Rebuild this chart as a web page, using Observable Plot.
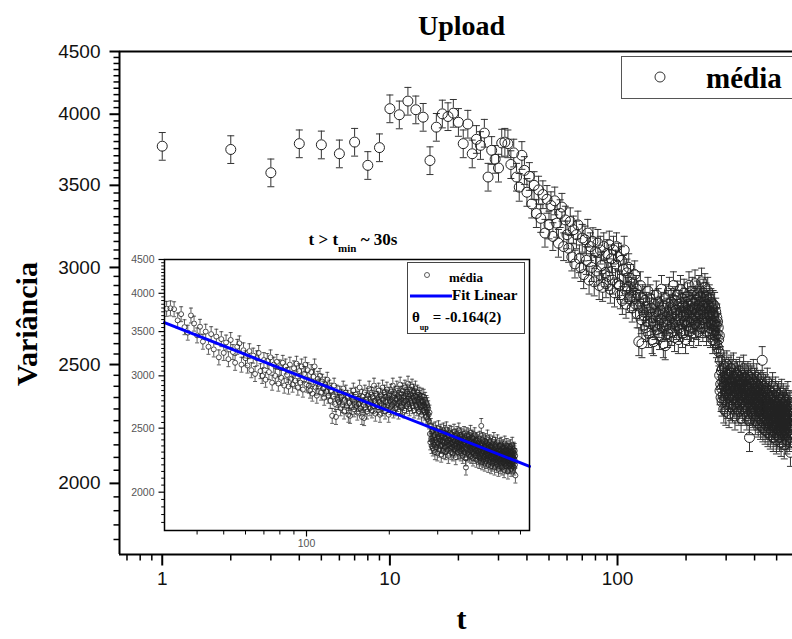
<!DOCTYPE html>
<html><head><meta charset="utf-8">
<script src="https://cdn.jsdelivr.net/npm/d3@7"></script>
<script src="https://cdn.jsdelivr.net/npm/@observablehq/plot@0.6"></script>
<style>
body{margin:0;background:#fff}
#wrap{position:relative;width:792px;height:639px;overflow:hidden;background:#fff}
#wrap > *{position:absolute}
</style></head><body><div id="wrap"></div>
<script>
// ---- data (t = 1, 2, 3, ... seconds) ----
const variance = [
3767,3744,3584,3785,3777,3714,3796,3634,3757,4042,
3996,4100,4034,3978,3667,3904,4003,3983,4008,3940,
3785,3927,3714,3816,3773,3861,3555,3738,3676,3616,
3790,3796,3785,3640,3720,3555,3488,3703,3600,3455,
3560,3380,3500,3320,3470,3290,3440,3200,3410,3250,
3370,3180,3400,3260,3140,3320,3360,3120,3280,3190,
3110,3270,3060,3220,3020,3190,3250,3050,3000,3170,
2960,3160,3040,3200,2930,3120,3000,3150,2920,3090,
2980,3140,2900,3100,3010,2890,3120,2970,2910,3080,
2950,3130,2880,3050,2930,3100,2860,3020,3120,2910,
3060,2900,2850,3040,2820,2990,3100,2880,2800,2970,
2890,3000,2830,2940,2870,2780,2910,2840,2960,2800,
2880,2750,2850,2610,2790,2900,2720,2600,2830,2760,
2740,2820,2680,2790,2710,2870,2650,2760,2830,2700,
2780,2620,2730,2610,2800,2690,2760,2850,2670,2740,
2810,2700,2640,2770,2720,2880,2680,2750,2600,2790,
2710,2590,2830,2690,2760,2650,2800,2720,2870,2680,
2740,2810,2660,2780,2700,2900,2750,2630,2820,2710,
2770,2690,2850,2740,2620,2800,2720,2680,2880,2760,
2700,2830,2650,2790,2740,2860,2710,2780,2620,2810,
2750,2690,2840,2770,2710,2900,2660,2790,2730,2820,
2680,2760,2870,2720,2800,2650,2780,2740,2910,2700,
2820,2760,2690,2850,2730,2790,2660,2880,2750,2810,
2700,2840,2770,2920,2720,2790,2680,2860,2750,2810,
2730,2890,2700,2780,2840,2660,2800,2750,2870,2710,
2790,2680,2830,2740,2760,2650,2810,2720,2780,2690,
2750,2620,2800,2700,2740,2660,2790,2710,2640,2760,
2690,2600,2730,2650,2710,2580,2680,2620,2560,2640,
2450,2380,2520,2410,2350,2470,2390,2330,2480,2420,
2360,2440,2300,2490,2400,2340,2460,2380,2290,2430,
2370,2500,2410,2320,2450,2390,2350,2470,2280,2420,
2360,2440,2390,2310,2480,2370,2420,2340,2460,2300,
2410,2350,2490,2380,2320,2440,2400,2270,2430,2360,
2390,2460,2330,2410,2370,2300,2450,2380,2340,2420,
2290,2400,2360,2470,2320,2390,2430,2350,2260,2410,
2370,2330,2450,2390,2300,2420,2360,2480,2340,2380,
2310,2440,2370,2290,2400,2350,2430,2320,2390,2270,
2410,2360,2330,2450,2300,2380,2420,2340,2250,2180,
2390,2320,2440,2360,2290,2410,2350,2300,2430,2370,
2280,2400,2340,2310,2460,2360,2270,2390,2330,2420,
2300,2370,2250,2410,2340,2290,2380,2320,2440,2350,
2270,2390,2310,2360,2240,2400,2330,2290,2370,2310,
2350,2260,2380,2300,2230,2410,2320,2280,2360,2250,
2340,2520,2290,2370,2220,2310,2400,2270,2330,2240,
2380,2300,2260,2350,2210,2320,2390,2280,2340,2230,
2310,2370,2250,2290,2420,2270,2330,2200,2300,2360,
2240,2320,2280,2380,2220,2310,2260,2350,2190,2290,
2340,2250,2300,2210,2370,2270,2320,2230,2290,2400,
2260,2310,2180,2340,2280,2240,2360,2220,2300,2250,
2330,2200,2290,2260,2380,2230,2310,2270,2170,2320,
2250,2300,2220,2350,2270,2190,2310,2240,2290,2360,
2210,2280,2250,2330,2180,2300,2260,2220,2340,2270,
2230,2310,2160,2290,2250,2370,2210,2280,2240,2320,
2190,2270,2300,2230,2350,2260,2200,2290,2250,2150,
2310,2240,2280,2210,2330,2260,2190,2300,2230,2270,
2340,2200,2280,2250,2170,2310,2240,2290,2220,2360,
2260,2190,2300,2230,2270,2210,2320,2250,2180,2290,
2240,2310,2200,2270,2120
];
const times = variance.map((_, i) => i + 1);
const errFrac = 0.026;          // relative half-length of the error bars
const tMin = 30;                // inset: t > t_min ~ 30 s
const fitTheta = -0.164;        // θ_up
const fitAmp = 6324;            // fit amplitude
const mainYTicks = [2000, 2500, 3000, 3500, 4000, 4500];
const mainXTicks = [1, 10, 100];
const mainXMinor = [0.7,0.8,0.9,2,3,4,5,6,7,8,9,20,30,40,50,60,70,80,90,200,300,400,500];
const insetXTicks = [100];
const insetXMinor = [40,50,60,70,80,90,200,300,400,500,600];
const yMinor = d3.range(1800, 4500, 50).filter(v => v % 500 !== 0);

const xDomMain = [0.649, 587];
const xDomInset = [30.45, 647];
const yDom = [1750, 4500];

const mainData = times.map((t, i) => ({t, v: variance[i]}));
const insetData = mainData.filter(d => d.t > tMin);
const fitPts = xDomInset.map(t => ({t, v: fitAmp * Math.pow(t, fitTheta)}));

function lineSymbol(a, b, c, d) {
  return {draw(ctx, size) { const l = Math.sqrt(size / Math.PI); ctx.moveTo(a * l, b * l); ctx.lineTo(c * l, d * l); }};
}
const symLeft = lineSymbol(-1, 0, 0, 0);
const symDown = lineSymbol(0, 0, 0, 1);
const symCap = lineSymbol(-1, 0, 1, 0);

const serif = "Liberation Serif";
const wrap = document.getElementById("wrap");

function errorMarks(data, r, cap, color, sw) {
  return [
    Plot.ruleX(data, {x: "t", y1: d => d.v * (1 + errFrac), y2: "v", insetBottom: r, stroke: color, strokeWidth: sw}),
    Plot.ruleX(data, {x: "t", y1: "v", y2: d => d.v * (1 - errFrac), insetTop: r, stroke: color, strokeWidth: sw}),
    Plot.dot(data, {x: "t", y: d => d.v * (1 + errFrac), symbol: symCap, r: cap, fill: "none", stroke: color, strokeWidth: sw}),
    Plot.dot(data, {x: "t", y: d => d.v * (1 - errFrac), symbol: symCap, r: cap, fill: "none", stroke: color, strokeWidth: sw}),
    Plot.dot(data, {x: "t", y: "v", r: r, fill: "none", stroke: "#222", strokeWidth: sw})
  ];
}

const main = Plot.plot({
  width: 792, height: 639,
  marginLeft: 119, marginRight: 0, marginTop: 51, marginBottom: 85,
  style: {font: "19px 'Liberation Sans'", color: "#111", background: "white", overflow: "visible"},
  x: {type: "log", domain: xDomMain, ticks: mainXTicks, tickSize: 0, tickPadding: 17, tickFormat: d => String(d), label: null},
  y: {type: "log", domain: yDom, ticks: mainYTicks, tickSize: 0, tickPadding: 19, tickFormat: d => String(d), label: null},
  marks: [
    ...errorMarks(mainData, 5, 3.5, "#333", 1),
    Plot.ruleX([xDomMain[0]], {stroke: "#000", strokeWidth: 2}),
    Plot.ruleY([yDom[0]], {stroke: "#000", strokeWidth: 2}),
    Plot.ruleY([yDom[1]], {stroke: "#000", strokeWidth: 2}),
    Plot.dot(mainYTicks, {x: () => xDomMain[0], y: d => d, symbol: symLeft, r: 10, stroke: "#000", strokeWidth: 2, fill: "none"}),
    Plot.dot(yMinor, {x: () => xDomMain[0], y: d => d, symbol: symLeft, r: 6, stroke: "#000", strokeWidth: 1.5, fill: "none"}),
    Plot.dot(mainXTicks, {x: d => d, y: () => yDom[0], symbol: symDown, r: 11, stroke: "#000", strokeWidth: 2, fill: "none"}),
    Plot.dot(mainXMinor, {x: d => d, y: () => yDom[0], symbol: symDown, r: 6, stroke: "#000", strokeWidth: 1.5, fill: "none"}),
    Plot.text(["Upload"], {frameAnchor: "top", textAnchor: "middle", lineAnchor: "middle", dx: 5.5, dy: -25, fontFamily: serif, fontWeight: "bold", fontSize: 28, fill: "#000"}),
    Plot.text(["Variância"], {frameAnchor: "left", textAnchor: "middle", lineAnchor: "middle", rotate: -90, dx: -92, dy: 21, fontFamily: serif, fontWeight: "bold", fontSize: 30, fill: "#000"}),
    Plot.text(["t"], {frameAnchor: "bottom", textAnchor: "middle", lineAnchor: "middle", dx: 5.5, dy: 65, fontFamily: serif, fontWeight: "bold", fontSize: 30, fill: "#000"})
  ]
});
main.style.left = "0px"; main.style.top = "0px";
wrap.appendChild(main);

const inset = Plot.plot({
  width: 415, height: 326,
  marginLeft: 45, marginRight: 5, marginTop: 30, marginBottom: 25,
  style: {font: "10.5px 'Liberation Sans'", color: "#555", background: "transparent", overflow: "visible"},
  x: {type: "log", domain: xDomInset, ticks: insetXTicks, tickSize: 0, tickPadding: 9, tickFormat: d => String(d), label: null},
  y: {type: "log", domain: yDom, ticks: mainYTicks, tickSize: 0, tickPadding: 10, tickFormat: d => String(d), label: null},
  marks: [
    Plot.frame({fill: "white", stroke: "none"}),
    ...errorMarks(insetData, 2.5, 2, "#333", 0.8),
    Plot.line(fitPts, {x: "t", y: "v", stroke: "#0000ff", strokeWidth: 3}),
    Plot.frame({stroke: "#000", strokeWidth: 1.5}),
    Plot.dot(mainYTicks, {x: () => xDomInset[0], y: d => d, symbol: symLeft, r: 6, stroke: "#000", strokeWidth: 1.2, fill: "none"}),
    Plot.dot(yMinor, {x: () => xDomInset[0], y: d => d, symbol: symLeft, r: 3.3, stroke: "#000", strokeWidth: 1, fill: "none"}),
    Plot.dot(insetXTicks, {x: d => d, y: () => yDom[0], symbol: symDown, r: 6, stroke: "#000", strokeWidth: 1.2, fill: "none"}),
    Plot.dot(insetXMinor, {x: d => d, y: () => yDom[0], symbol: symDown, r: 4, stroke: "#000", strokeWidth: 1, fill: "none"})
  ]
});
inset.style.left = "119px"; inset.style.top = "229px";
wrap.appendChild(inset);

// texts and legends (SVG overlays)
const NS = "http://www.w3.org/2000/svg";
function overlay(left, top, w, h, inner) {
  const s = document.createElementNS(NS, "svg");
  s.setAttribute("width", w); s.setAttribute("height", h);
  s.style.left = left + "px"; s.style.top = top + "px";
  s.innerHTML = inner;
  wrap.appendChild(s);
}
// inset title
overlay(250, 228, 210, 30,
  `<text x="103" y="17" text-anchor="middle" font-family="${serif}" font-weight="bold" font-size="17" fill="#000">t &gt; t<tspan font-size="11" dy="7">min</tspan><tspan dy="-7"> ~ 30s</tspan></text>`);
// main legend
overlay(621, 56, 171, 43,
  `<rect x="0.5" y="0.5" width="220" height="42" fill="white" stroke="#555" stroke-width="1"/>
   <circle cx="39" cy="21" r="5" fill="none" stroke="#333" stroke-width="1"/>
   <text x="85" y="32" font-family="${serif}" font-weight="bold" font-size="29" fill="#000">média</text>`);
// inset legend
overlay(407, 262, 118, 73,
  `<rect x="0.5" y="0.5" width="117" height="71" fill="white" stroke="#444" stroke-width="1"/>
   <circle cx="20" cy="13" r="2.5" fill="none" stroke="#333" stroke-width="0.8"/>
   <text x="42" y="20" font-family="${serif}" font-weight="bold" font-size="13" fill="#000">média</text>
   <line x1="3" x2="45" y1="34" y2="34" stroke="#0000ff" stroke-width="3"/>
   <text x="45" y="38" font-family="${serif}" font-weight="bold" font-size="15" fill="#000">Fit Linear</text>
   <text x="5" y="60" font-family="${serif}" font-weight="bold" font-size="15" fill="#000">θ<tspan font-size="8" dy="8">up</tspan><tspan dy="-8" dx="4">= -0.164(2)</tspan></text>`);
</script></body></html>
